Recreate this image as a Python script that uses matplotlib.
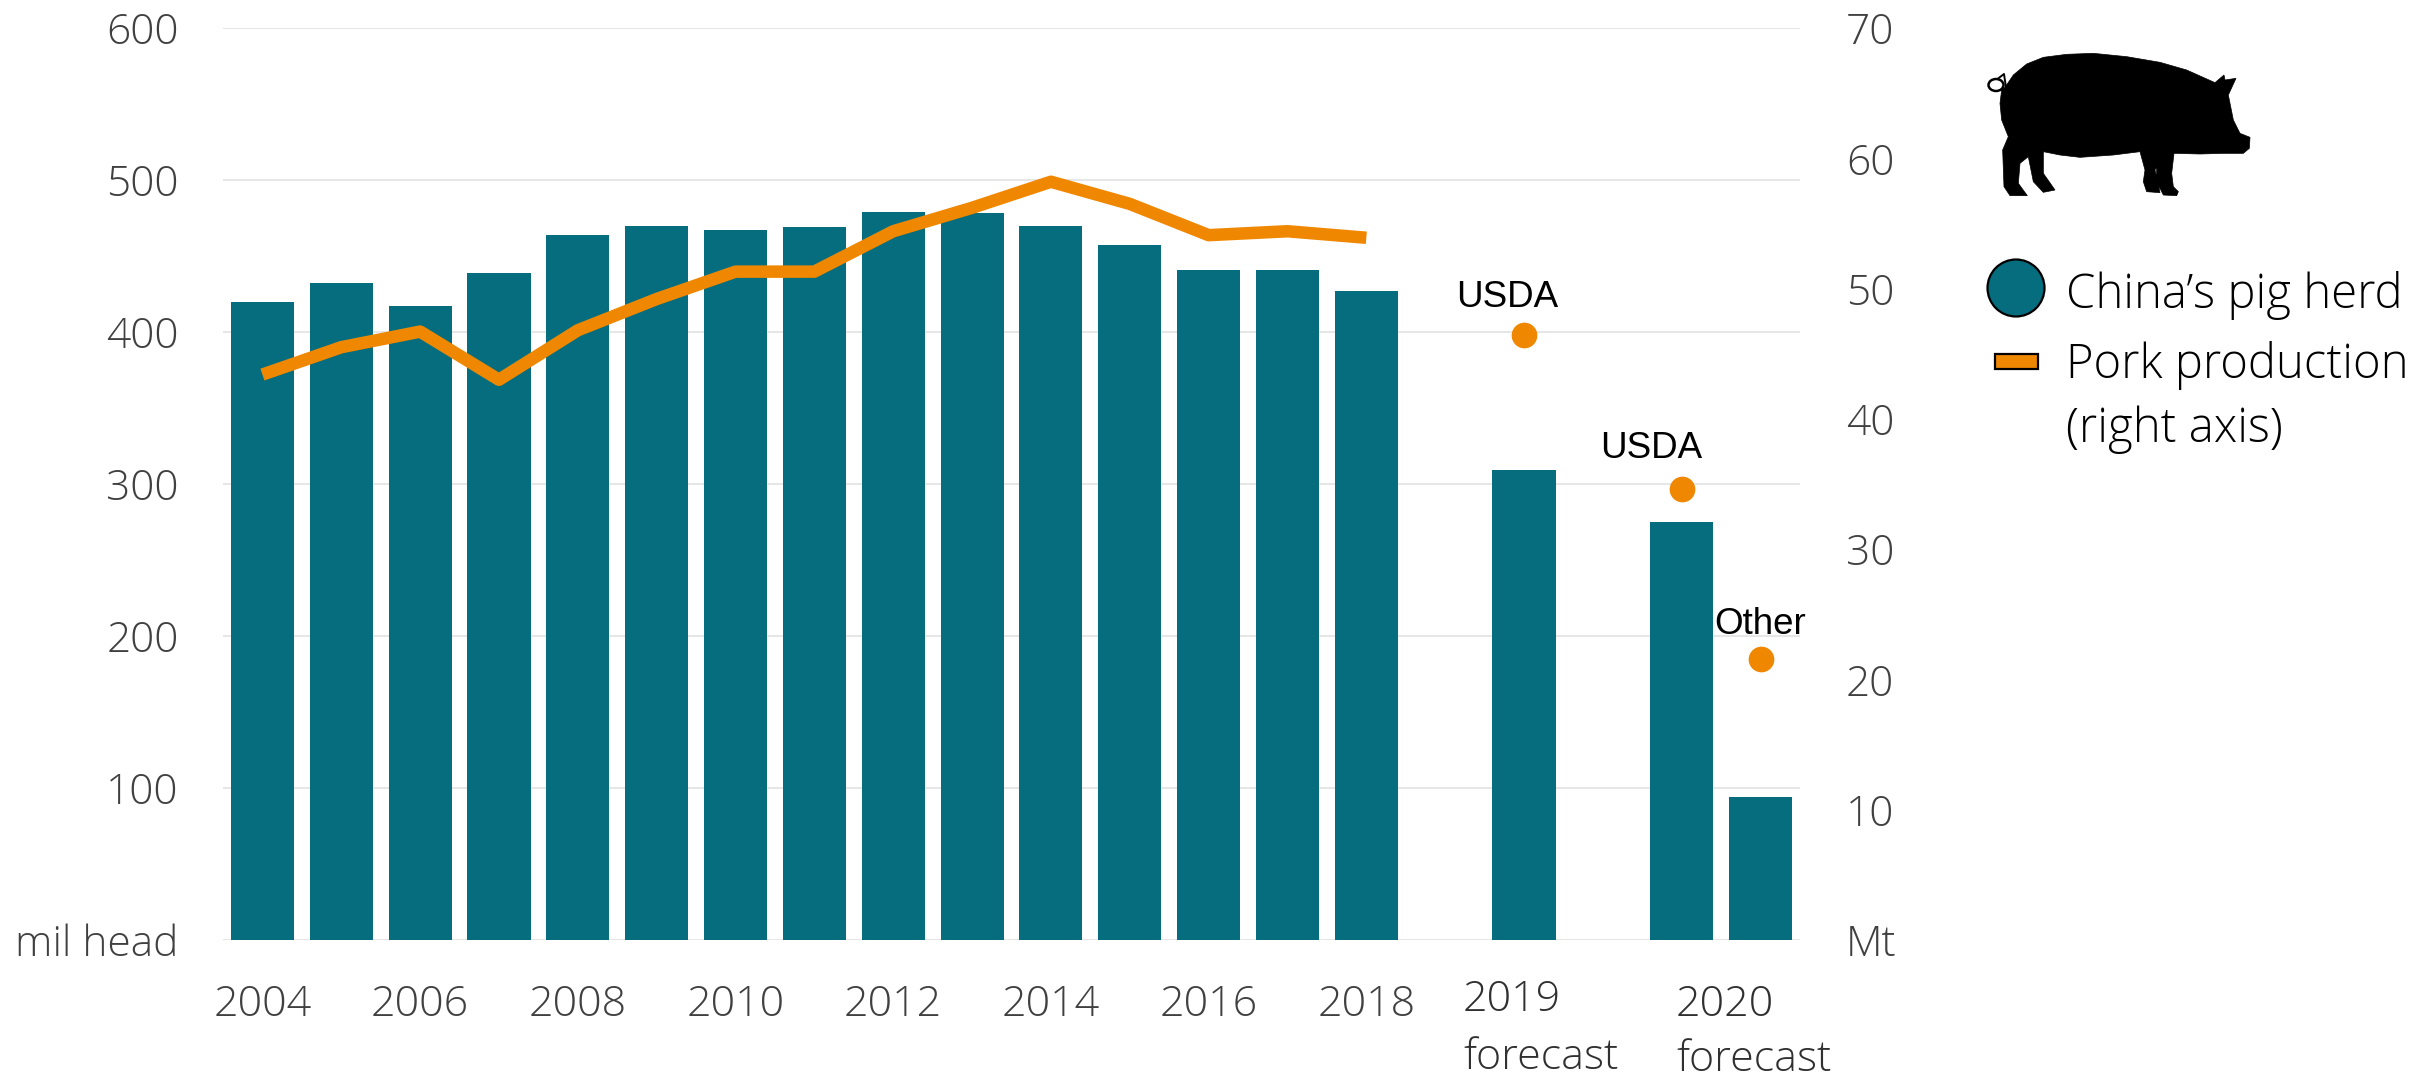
import matplotlib
matplotlib.use('Agg')
import matplotlib.pyplot as plt
from matplotlib.patches import Polygon, Circle, Rectangle, Ellipse
from matplotlib.transforms import Affine2D

W, H = 2420, 1077
years = list(range(2004, 2019))
herd = [420, 432, 417, 439, 464, 470, 467, 469, 479, 478, 470, 457, 441, 441, 427]
pork = [43.4, 45.5, 46.7, 43.0, 46.8, 49.2, 51.3, 51.3, 54.4, 56.2, 58.2, 56.5, 54.1, 54.4, 53.9]
forecast_slots = [16, 18, 19]
forecast_herd = [309, 275, 94]
forecast_pork = [46.4, 34.6, 21.6]
forecast_sources = ['USDA', 'USDA', 'Other']
left_ticks = [0, 100, 200, 300, 400, 500, 600]
left_labels = ['mil head', '100', '200', '300', '400', '500', '600']
right_ticks = [0, 10, 20, 30, 40, 50, 60, 70]
right_labels = ['Mt', '10', '20', '30', '40', '50', '60', '70']
year_labels = ['2004', '2006', '2008', '2010', '2012', '2014', '2016', '2018']

TEAL = '#066d7e'
ORANGE = '#f08700'
GREY = '#404040'
FONT = 'Open Sans'
plt.rcParams['font.family'] = [FONT, 'DejaVu Sans']
plt.rcParams['font.weight'] = 300

fig = plt.figure(figsize=(W / 100, H / 100), dpi=100)
fig.patch.set_facecolor('white')
ax = fig.add_axes([223 / W, 1 - 940 / H, (1800 - 223) / W, (940 - 28) / H])
ax2 = ax.twinx()
px = Affine2D().scale(1, -1).translate(0, H)  # reference pixels, y down

ax.set_xlim(-0.5, 19.5)
ax.set_ylim(0, 600)
ax2.set_ylim(0, 70)
for a in (ax, ax2):
    for s in a.spines.values():
        s.set_visible(False)
ax.set_axisbelow(True)
ax.yaxis.grid(True, color='#e6e6e6', lw=1.4)
ax.set_yticks(left_ticks, left_labels)
ax2.set_yticks(right_ticks, right_labels)
ax.tick_params(axis='y', length=0, pad=32, labelsize=30.5, labelcolor=GREY)
ax2.tick_params(axis='y', length=0, pad=33, labelsize=30.5, labelcolor=GREY)
ax.set_xticks(range(0, 16, 2), year_labels)
ax.tick_params(axis='x', length=0, pad=31, labelsize=31, labelcolor=GREY)

idx = list(range(len(years)))
ax.bar(idx, herd, width=0.8, color=TEAL)
ax.bar(forecast_slots, forecast_herd, width=0.8, color=TEAL)
ax2.plot(idx, pork, color=ORANGE, lw=9, solid_joinstyle='round', solid_capstyle='butt')
ax2.plot(forecast_slots, forecast_pork, 'o', color=ORANGE, ms=18.5, mew=0, ls='none')
label_offsets = [(-12, 15), (-22, 17), (0, 12)]
for x, y, s, off in zip(forecast_slots, forecast_pork, forecast_sources, label_offsets):
    ax2.annotate(s, (x, y), xytext=off, textcoords='offset points',
                 ha='center', va='bottom', family='Liberation Sans', weight='normal',
                 fontsize=26.5, color='black')

def ftext(x, y, s, size=31, color='#303030'):
    fig.text(x, y, s, transform=px, fontsize=size, color=color, ha='left', va='baseline')

ftext(1463, 1011, '2019')
ftext(1463, 1069, 'forecast')
ftext(1676, 1016, '2020')
ftext(1676, 1071, 'forecast')

# legend
fig.add_artist(Circle((2016, 288), 28.5, transform=px, fc=TEAL, ec='black', lw=1.6))
fig.add_artist(Rectangle((1995, 354), 43, 15, transform=px, fc=ORANGE, ec='black', lw=1.6))
ftext(2066, 308, 'China\u2019s pig herd', size=34, color='black')
ftext(2066, 378, 'Pork production', size=34, color='black')
ftext(2066, 442, '(right axis)', size=34, color='black')

# pig icon, traced in a 3x crop whose origin is (1900, 0)
pig = [(315,262),(340,225),(380,192),(430,172),(500,163),(580,160),(680,170),(780,187),(860,210),
       (945,248),(972,225),(975,240),(1008,235),(985,285),(1000,360),(1020,400),(1050,412),(1048,445),
       (1030,460),(970,460),(900,462),(822,460),(815,520),(820,560),(835,575),(830,587),(790,585),
       (770,545),(770,500),(765,510),(780,578),(740,575),(730,545),(735,510),(720,455),(640,465),
       (540,472),(480,465),(430,455),(430,520),(465,570),(430,577),(400,545),(385,470),(360,490),
       (355,550),(382,587),(330,587),(312,560),(308,450),(325,410),(305,360),(300,310),(305,270)]
pig_px = [(1900 + x / 3, y / 3) for x, y in pig]
fig.add_artist(Polygon(pig_px, closed=True, transform=px, fc='black', ec='black', lw=0.5))
fig.add_artist(Ellipse((1900 + 288 / 3, 255 / 3), 15, 12, transform=px, fc='none', ec='black', lw=1.8))
fig.add_artist(plt.Line2D([1900 + 295 / 3, 1900 + 312 / 3, 1900 + 318 / 3],
                          [235 / 3, 222 / 3, 262 / 3], transform=px, color='black', lw=1.4))

fig.savefig('out.png', dpi=100)
